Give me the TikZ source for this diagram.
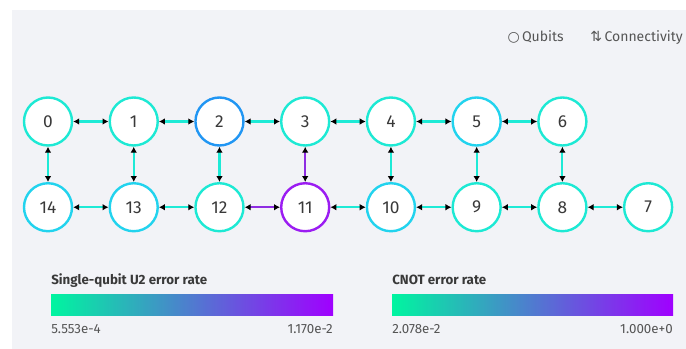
\documentclass[tikz,border=0pt]{standalone}
\usepackage{fontspec}
\setmainfont{Fira Sans}
\newfontfamily\symfont{DejaVu Sans}
\usepackage{tikz}
\usetikzlibrary{arrows.meta}
\definecolor{bgcol}{HTML}{F2F3F7}
\definecolor{qgreen}{HTML}{1DE9D4}
\definecolor{qcyan}{HTML}{22D3EE}
\definecolor{qblue}{HTML}{2196F3}
\definecolor{qpurple}{HTML}{9B1CF2}
\definecolor{lgreen}{HTML}{1EEAD6}
\definecolor{lpurple}{HTML}{8E2DE2}
\definecolor{gmin}{HTML}{00F5A0}
\definecolor{gmax}{HTML}{A000FF}
\definecolor{numgray}{HTML}{393939}
\definecolor{txtgray}{HTML}{555555}
\tikzstyle{qubit} = [circle, minimum size=36pt, inner sep=0pt, line width=1.8pt, draw=qgreen, fill=white, text=numgray, font=\fontsize{13}{15}\selectfont]
\tikzstyle{link} = [line width=1.6pt, draw=lgreen, >={Latex[black,length=4.5pt,width=5pt]}, <->]
\tikzstyle{legend} = [inner sep=0pt, anchor=base east, text=txtgray, font=\fontsize{10.5}{12}\selectfont]
\tikzstyle{bartitle} = [inner sep=0pt, anchor=base west, text=numgray, font=\fontsize{10}{12}\selectfont\bfseries]
\tikzstyle{ticklabel} = [inner sep=0pt, text=txtgray, font=\fontsize{10}{12}\selectfont]

\begin{document}
\begin{tikzpicture}[x=0.75pt, y=-0.75pt, node distance=64.3pt]
\useasboundingbox (0,0) rectangle (686,349);
\fill[bgcol] (12,10) rectangle (686,349);

% legend
\node (legqubits) [legend] at (564,42) {{\symfont ○}\,Qubits};
\node (legconn) [legend] at (683,42) {{\symfont ⇅}\,Connectivity};

% qubits
\node (q0) [qubit] at (48,121.5) {0};
\node (q1) [qubit, right of=q0] {1};
\node (q2) [qubit, draw=qblue, right of=q1] {2};
\node (q3) [qubit, right of=q2] {3};
\node (q4) [qubit, right of=q3] {4};
\node (q5) [qubit, draw=qcyan, right of=q4] {5};
\node (q6) [qubit, right of=q5] {6};
\node (q14) [qubit, draw=qcyan, below of=q0] {14};
\node (q13) [qubit, draw=qcyan, right of=q14] {13};
\node (q12) [qubit, right of=q13] {12};
\node (q11) [qubit, draw=qpurple, right of=q12] {11};
\node (q10) [qubit, draw=qcyan, right of=q11] {10};
\node (q9) [qubit, right of=q10] {9};
\node (q8) [qubit, right of=q9] {8};
\node (q7) [qubit, right of=q8] {7};

\draw [link] (q0) -- (q1);
\draw [link] (q1) -- (q2);
\draw [link] (q2) -- (q3);
\draw [link] (q3) -- (q4);
\draw [link] (q4) -- (q5);
\draw [link] (q5) -- (q6);
\draw [link] (q14) -- (q13);
\draw [link] (q13) -- (q12);
\draw [link, draw=lpurple] (q12) -- (q11);
\draw [link] (q11) -- (q10);
\draw [link] (q10) -- (q9);
\draw [link] (q9) -- (q8);
\draw [link] (q8) -- (q7);
\draw [link] (q0) -- (q14);
\draw [link] (q1) -- (q13);
\draw [link] (q2) -- (q12);
\draw [link, draw=lpurple] (q3) -- (q11);
\draw [link] (q4) -- (q10);
\draw [link] (q5) -- (q9);
\draw [link] (q6) -- (q8);

% colour scales
\node (u2title) [bartitle] at (51,285) {Single-qubit U2 error rate};
\shade[left color=gmin, right color=gmax] (51,295) rectangle (333,315);
\node (u2min) [ticklabel, anchor=base west] at (51,333) {5.553e-4};
\node (u2max) [ticklabel, anchor=base east] at (333,333) {1.170e-2};

\node (cxtitle) [bartitle] at (392,285) {CNOT error rate};
\shade[left color=gmin, right color=gmax] (392,295) rectangle (673,315);
\node (cxmin) [ticklabel, anchor=base west] at (392,333) {2.078e-2};
\node (cxmax) [ticklabel, anchor=base east] at (673,333) {1.000e+0};
\end{tikzpicture}
\end{document}
